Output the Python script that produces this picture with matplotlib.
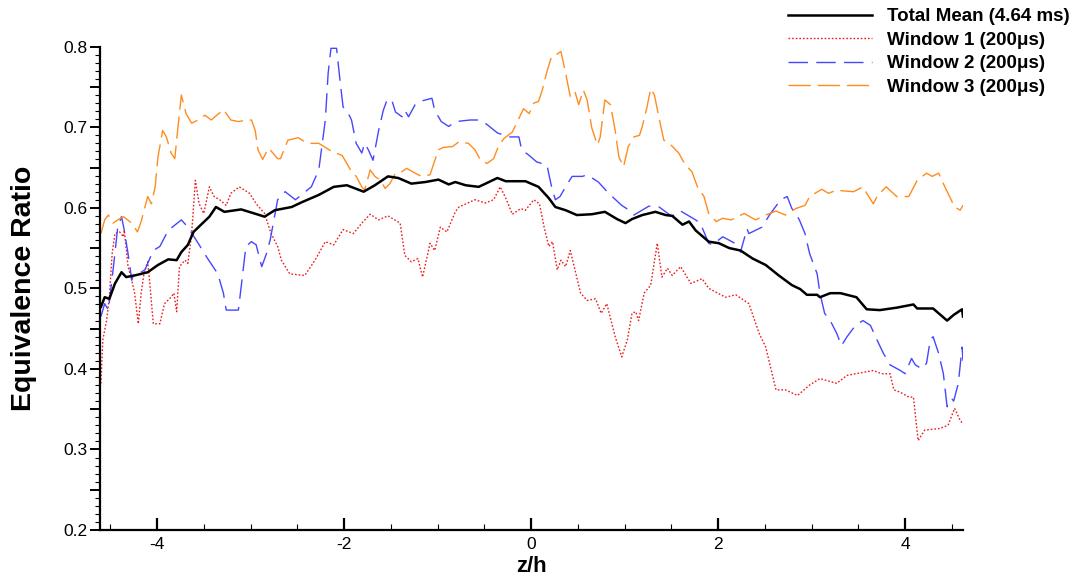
import matplotlib
matplotlib.use("Agg")
import matplotlib.pyplot as plt
from matplotlib.ticker import MultipleLocator, FuncFormatter

plt.rcParams['font.family'] = ['Liberation Sans', 'DejaVu Sans']

# ---------------- data ----------------
mean_z = [-4.60, -4.56, -4.51, -4.45, -4.38, -4.33, -4.24, -4.10, -3.99, -3.88, -3.79, -3.74,
          -3.67, -3.61, -3.53, -3.44, -3.37, -3.28, -3.10, -2.96, -2.85, -2.74, -2.56, -2.45,
          -2.27, -2.11, -1.97, -1.79, -1.67, -1.53, -1.42, -1.28, -1.13, -0.99, -0.88, -0.81,
          -0.70, -0.56, -0.45, -0.36, -0.27, -0.06, 0.08, 0.19, 0.26, 0.37, 0.49, 0.65, 0.79,
          0.92, 1.01, 1.08, 1.19, 1.33, 1.44, 1.51, 1.62, 1.69, 1.76, 1.90, 2.01, 2.12, 2.24,
          2.37, 2.51, 2.65, 2.79, 2.88, 2.95, 3.06, 3.09, 3.20, 3.31, 3.48, 3.59, 3.73, 3.91,
          4.09, 4.13, 4.30, 4.45, 4.52, 4.61, 4.62]
mean_phi = [0.477, 0.489, 0.487, 0.506, 0.520, 0.514, 0.516, 0.520, 0.529, 0.536, 0.535, 0.545,
            0.554, 0.570, 0.579, 0.589, 0.601, 0.595, 0.598, 0.593, 0.589, 0.597, 0.601, 0.607,
            0.616, 0.626, 0.628, 0.620, 0.628, 0.639, 0.637, 0.630, 0.632, 0.635, 0.629, 0.632,
            0.628, 0.626, 0.632, 0.637, 0.633, 0.633, 0.626, 0.612, 0.601, 0.597, 0.591, 0.592,
            0.595, 0.586, 0.581, 0.586, 0.591, 0.595, 0.591, 0.590, 0.579, 0.583, 0.572, 0.558,
            0.556, 0.550, 0.547, 0.537, 0.529, 0.516, 0.504, 0.499, 0.492, 0.492, 0.489, 0.494,
            0.494, 0.489, 0.474, 0.473, 0.476, 0.480, 0.475, 0.475, 0.460, 0.467, 0.474, 0.465]

w1_z = [-4.60, -4.58, -4.54, -4.51, -4.48, -4.45, -4.40, -4.36, -4.35, -4.31, -4.27, -4.24,
        -4.20, -4.17, -4.14, -4.10, -4.08, -4.04, -3.97, -3.92, -3.85, -3.82, -3.79, -3.76,
        -3.70, -3.67, -3.63, -3.59, -3.55, -3.50, -3.44, -3.39, -3.33, -3.26, -3.21, -3.12,
        -3.01, -2.94, -2.85, -2.78, -2.71, -2.67, -2.58, -2.42, -2.31, -2.20, -2.11, -2.01,
        -1.90, -1.81, -1.72, -1.63, -1.53, -1.40, -1.35, -1.28, -1.21, -1.16, -1.08, -1.03,
        -0.97, -0.90, -0.81, -0.77, -0.60, -0.49, -0.40, -0.33, -0.27, -0.20, -0.11, -0.06,
        0.03, 0.09, 0.14, 0.19, 0.23, 0.28, 0.32, 0.37, 0.42, 0.53, 0.60, 0.69, 0.75, 0.81,
        0.90, 0.97, 1.03, 1.08, 1.12, 1.15, 1.21, 1.28, 1.35, 1.40, 1.46, 1.51, 1.60, 1.71,
        1.83, 1.90, 2.08, 2.19, 2.33, 2.44, 2.51, 2.62, 2.72, 2.85, 2.98, 3.09, 3.27, 3.38,
        3.52, 3.66, 3.75, 3.84, 3.88, 3.95, 4.04, 4.09, 4.14, 4.21, 4.37, 4.46, 4.53, 4.59, 4.62]
w1_phi = [0.382, 0.436, 0.460, 0.489, 0.543, 0.568, 0.570, 0.564, 0.572, 0.527, 0.510, 0.494,
          0.456, 0.494, 0.518, 0.533, 0.510, 0.456, 0.456, 0.481, 0.489, 0.494, 0.471, 0.527,
          0.535, 0.531, 0.568, 0.634, 0.605, 0.593, 0.626, 0.614, 0.610, 0.603, 0.618, 0.626,
          0.618, 0.605, 0.593, 0.568, 0.552, 0.535, 0.518, 0.516, 0.535, 0.558, 0.554, 0.573,
          0.568, 0.581, 0.592, 0.585, 0.590, 0.581, 0.541, 0.533, 0.537, 0.514, 0.556, 0.547,
          0.576, 0.570, 0.595, 0.601, 0.610, 0.606, 0.610, 0.626, 0.612, 0.592, 0.599, 0.597,
          0.610, 0.605, 0.576, 0.552, 0.558, 0.523, 0.535, 0.527, 0.547, 0.494, 0.485, 0.487,
          0.469, 0.481, 0.440, 0.415, 0.436, 0.469, 0.471, 0.460, 0.494, 0.504, 0.556, 0.514,
          0.525, 0.516, 0.527, 0.506, 0.512, 0.500, 0.489, 0.492, 0.481, 0.444, 0.427, 0.374,
          0.374, 0.367, 0.380, 0.388, 0.382, 0.392, 0.395, 0.398, 0.394, 0.394, 0.374, 0.371,
          0.365, 0.365, 0.311, 0.324, 0.326, 0.330, 0.351, 0.336, 0.332]

w2_z = [-4.60, -4.56, -4.52, -4.47, -4.42, -4.38, -4.35, -4.31, -4.27, -4.25, -4.20, -4.13,
        -4.04, -3.97, -3.88, -3.74, -3.67, -3.56, -3.47, -3.35, -3.29, -3.26, -3.13, -3.10,
        -3.05, -2.99, -2.94, -2.88, -2.83, -2.79, -2.71, -2.63, -2.52, -2.35, -2.27, -2.20,
        -2.17, -2.14, -2.08, -2.04, -2.01, -1.97, -1.92, -1.87, -1.81, -1.78, -1.74, -1.69,
        -1.63, -1.58, -1.54, -1.49, -1.45, -1.38, -1.35, -1.31, -1.24, -1.19, -1.06, -1.03,
        -0.96, -0.88, -0.81, -0.65, -0.56, -0.51, -0.36, -0.24, -0.13, -0.10, -0.02, 0.06,
        0.17, 0.22, 0.26, 0.31, 0.39, 0.44, 0.55, 0.60, 0.72, 0.83, 0.97, 1.05, 1.10, 1.26,
        1.37, 1.51, 1.56, 1.60, 1.76, 1.81, 1.90, 1.94, 2.05, 2.10, 2.21, 2.24, 2.31, 2.33,
        2.47, 2.55, 2.67, 2.74, 2.79, 2.83, 2.87, 2.93, 2.98, 3.06, 3.09, 3.14, 3.20, 3.27,
        3.32, 3.38, 3.47, 3.55, 3.63, 3.70, 3.77, 3.84, 3.95, 4.00, 4.07, 4.11, 4.18, 4.23,
        4.27, 4.30, 4.36, 4.41, 4.45, 4.50, 4.52, 4.57, 4.61, 4.62]
w2_phi = [0.465, 0.481, 0.473, 0.523, 0.576, 0.589, 0.572, 0.543, 0.510, 0.518, 0.518, 0.523,
          0.547, 0.552, 0.572, 0.585, 0.576, 0.556, 0.539, 0.518, 0.494, 0.473, 0.473, 0.502,
          0.552, 0.558, 0.554, 0.527, 0.543, 0.560, 0.610, 0.620, 0.610, 0.626, 0.647, 0.709,
          0.767, 0.798, 0.798, 0.755, 0.725, 0.721, 0.709, 0.680, 0.668, 0.680, 0.672, 0.659,
          0.696, 0.721, 0.734, 0.734, 0.719, 0.713, 0.721, 0.713, 0.728, 0.732, 0.736, 0.721,
          0.707, 0.701, 0.707, 0.709, 0.709, 0.707, 0.693, 0.688, 0.688, 0.672, 0.665, 0.657,
          0.653, 0.626, 0.610, 0.614, 0.630, 0.639, 0.639, 0.641, 0.632, 0.618, 0.603, 0.597,
          0.591, 0.602, 0.601, 0.589, 0.595, 0.596, 0.585, 0.581, 0.556, 0.554, 0.564, 0.561,
          0.554, 0.545, 0.574, 0.568, 0.576, 0.591, 0.610, 0.614, 0.599, 0.593, 0.585, 0.568,
          0.543, 0.518, 0.494, 0.469, 0.460, 0.444, 0.429, 0.440, 0.454, 0.460, 0.454, 0.436,
          0.419, 0.405, 0.398, 0.394, 0.413, 0.405, 0.400, 0.407, 0.436, 0.440, 0.419, 0.394,
          0.353, 0.363, 0.360, 0.382, 0.427, 0.410]

w3_z = [-4.60, -4.56, -4.52, -4.47, -4.42, -4.36, -4.27, -4.21, -4.17, -4.13, -4.10, -4.06,
        -4.02, -3.99, -3.94, -3.90, -3.85, -3.81, -3.78, -3.74, -3.69, -3.63, -3.56, -3.49,
        -3.42, -3.29, -3.21, -3.13, -3.04, -2.99, -2.95, -2.92, -2.87, -2.81, -2.76, -2.71,
        -2.68, -2.60, -2.49, -2.42, -2.35, -2.27, -2.13, -2.02, -1.97, -1.92, -1.87, -1.81,
        -1.78, -1.72, -1.67, -1.61, -1.56, -1.51, -1.45, -1.38, -1.33, -1.24, -1.17, -1.08,
        -1.04, -0.99, -0.94, -0.84, -0.77, -0.67, -0.60, -0.54, -0.47, -0.40, -0.35, -0.29,
        -0.20, -0.13, -0.08, -0.02, 0.03, 0.08, 0.12, 0.17, 0.22, 0.28, 0.32, 0.37, 0.42,
        0.47, 0.51, 0.56, 0.60, 0.65, 0.71, 0.74, 0.79, 0.85, 0.90, 0.94, 0.99, 1.04, 1.08,
        1.10, 1.16, 1.19, 1.24, 1.28, 1.32, 1.37, 1.42, 1.48, 1.58, 1.65, 1.72, 1.78, 1.85,
        1.90, 1.98, 2.05, 2.14, 2.28, 2.40, 2.51, 2.62, 2.72, 2.83, 2.93, 2.98, 3.11, 3.18,
        3.27, 3.34, 3.45, 3.55, 3.59, 3.66, 3.71, 3.80, 3.91, 4.04, 4.13, 4.23, 4.29, 4.36,
        4.41, 4.46, 4.53, 4.59, 4.62]
w3_phi = [0.568, 0.585, 0.591, 0.581, 0.585, 0.589, 0.581, 0.570, 0.583, 0.601, 0.614, 0.605,
          0.626, 0.663, 0.696, 0.688, 0.668, 0.661, 0.696, 0.740, 0.717, 0.705, 0.709, 0.715,
          0.709, 0.722, 0.709, 0.707, 0.709, 0.709, 0.696, 0.672, 0.660, 0.674, 0.668, 0.661,
          0.661, 0.684, 0.687, 0.682, 0.680, 0.680, 0.670, 0.665, 0.655, 0.645, 0.639, 0.626,
          0.622, 0.647, 0.639, 0.634, 0.624, 0.630, 0.643, 0.645, 0.649, 0.643, 0.639, 0.641,
          0.655, 0.672, 0.675, 0.676, 0.682, 0.680, 0.672, 0.659, 0.655, 0.661, 0.676, 0.686,
          0.694, 0.711, 0.723, 0.717, 0.730, 0.732, 0.746, 0.769, 0.788, 0.791, 0.794, 0.767,
          0.738, 0.744, 0.728, 0.746, 0.734, 0.699, 0.678, 0.688, 0.734, 0.728, 0.696, 0.663,
          0.651, 0.676, 0.684, 0.688, 0.690, 0.701, 0.725, 0.748, 0.740, 0.711, 0.684, 0.680,
          0.668, 0.653, 0.645, 0.626, 0.614, 0.593, 0.583, 0.587, 0.585, 0.593, 0.585, 0.591,
          0.596, 0.591, 0.599, 0.603, 0.614, 0.623, 0.618, 0.622, 0.621, 0.620, 0.626, 0.618,
          0.605, 0.616, 0.626, 0.614, 0.614, 0.634, 0.643, 0.639, 0.643, 0.630, 0.618, 0.601,
          0.597, 0.603]

labels = ['Total Mean (4.64 ms)', 'Window 1 (200\u03bcs)', 'Window 2 (200\u03bcs)', 'Window 3 (200\u03bcs)']
x_label = 'z/h'
y_label = 'Equivalence Ratio'

# ---------------- figure ----------------
fig = plt.figure(figsize=(10.79, 5.77), dpi=100)
ax = fig.add_axes([100 / 1079, 1 - 530 / 577, 863 / 1079, (530 - 46.7) / 577])

ax.plot(mean_z, mean_phi, color='black', lw=1.8, label=labels[0], zorder=5)
ax.plot(w1_z, w1_phi, color='#ee1c1c', lw=1.0, ls=(0, (1.2, 1.4)), label=labels[1])
ax.plot(w2_z, w2_phi, color='#4646ff', lw=1.0, ls=(0, (14, 6)), label=labels[2])
ax.plot(w3_z, w3_phi, color='#ff8c1e', lw=1.0, ls=(0, (16, 5)), label=labels[3])

ax.set_xlim(-4.61, 4.62)
ax.set_ylim(0.2, 0.8)

for s in ['top', 'right']:
    ax.spines[s].set_visible(False)
for s in ['left', 'bottom']:
    ax.spines[s].set_linewidth(1.6)

ax.xaxis.set_major_locator(MultipleLocator(2))
ax.xaxis.set_minor_locator(MultipleLocator(0.5))
ax.yaxis.set_major_locator(MultipleLocator(0.05))
ax.yaxis.set_minor_locator(MultipleLocator(0.01))

def yfmt(v, pos):
    if abs(round(v * 10) - v * 10) < 1e-6:
        return f'{v:.1f}'
    return ''
ax.yaxis.set_major_formatter(FuncFormatter(yfmt))
ax.xaxis.set_major_formatter(FuncFormatter(lambda v, p: f'{v:.0f}'))

ax.tick_params(axis='x', which='major', direction='in', length=9, width=1.6, labelsize=12.5, pad=5)
ax.tick_params(axis='x', which='minor', direction='in', length=4.5, width=0.8)
ax.tick_params(axis='y', which='major', direction='out', length=7, width=1.4, labelsize=12.5, pad=2)
ax.tick_params(axis='y', which='minor', direction='out', length=3.5, width=0.8)

ax.set_xlabel(x_label, fontsize=16, fontweight='bold', labelpad=3)
ax.set_ylabel(y_label, fontsize=20.5, fontweight='bold', labelpad=19)

leg = ax.legend(loc='upper left', bbox_to_anchor=(788 / 1079, 1 - 8 / 577),
                bbox_transform=fig.transFigure, frameon=False,
                prop={'weight': 'bold', 'size': 13.5}, handlelength=4.5,
                handletextpad=0.8, labelspacing=0.34, borderpad=0, borderaxespad=0)

fig.savefig('out.png', dpi=100)
